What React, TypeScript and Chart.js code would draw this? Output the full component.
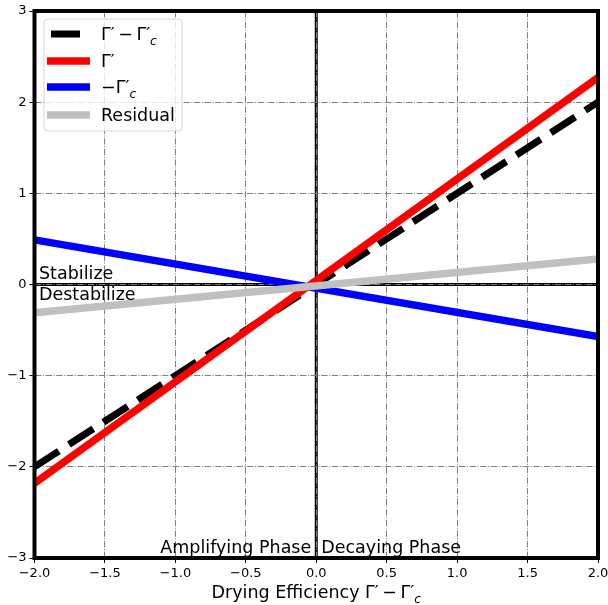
import React, { useEffect, useRef } from "react";
import { Chart, registerables } from "chart.js";

Chart.register(...registerables);

// Sample points along the drying-efficiency axis (Γ′ − Γ′c)
const xValues = [-2, 2];
// Series values at each sample point
const gammaDiff = [-2, 2];
const gammaPrime = [-2.18, 2.27];
const negGammaC = [0.49, -0.57];
const residual = [-0.31, 0.28];

const xTicks = [-2, -1.5, -1, -0.5, 0, 0.5, 1, 1.5, 2];
const yTicks = [-3, -2, -1, 0, 1, 2, 3];

const FONT = '"DejaVu Sans", "Noto Sans", sans-serif';

type Part = { t: string; sub?: boolean };

const legendLabels: Part[][] = [
  [{ t: "Γ′\u2009−\u2009Γ′" }, { t: "c", sub: true }],
  [{ t: "Γ′" }],
  [{ t: "−Γ′" }, { t: "c", sub: true }],
  [{ t: "Residual" }],
];
const axisTitle: Part[] = [
  { t: "Drying Efficiency Γ′\u2009−\u2009Γ′" },
  { t: "c", sub: true },
];

const fmtMinus = (s: string) => s.replace("-", "−");

function partFont(p: Part, size: number) {
  return p.sub ? `italic ${size * 0.7}px ${FONT}` : `${size}px ${FONT}`;
}

function drawRich(
  ctx: CanvasRenderingContext2D,
  parts: Part[],
  x: number,
  y: number,
  size: number,
  align: "left" | "center" | "right"
) {
  ctx.save();
  ctx.textAlign = "left";
  ctx.textBaseline = "alphabetic";
  let total = 0;
  const widths = parts.map((p) => {
    ctx.font = partFont(p, size);
    const w = ctx.measureText(p.t).width;
    total += w;
    return w;
  });
  let cx = align === "center" ? x - total / 2 : align === "right" ? x - total : x;
  parts.forEach((p, i) => {
    ctx.font = partFont(p, size);
    ctx.fillText(p.t, cx, y + (p.sub ? size * 0.28 : 0));
    cx += widths[i];
  });
  ctx.restore();
}

// Thick zero lines underneath the grid
const zeroLines = {
  id: "zeroLines",
  beforeDraw(chart: any) {
    const { ctx, chartArea, scales } = chart;
    const x0 = scales.x.getPixelForValue(0);
    const y0 = scales.y.getPixelForValue(0);
    ctx.save();
    ctx.strokeStyle = "#000";
    ctx.lineWidth = 3;
    ctx.beginPath();
    ctx.moveTo(x0, chartArea.top);
    ctx.lineTo(x0, chartArea.bottom);
    ctx.moveTo(chartArea.left, y0);
    ctx.lineTo(chartArea.right, y0);
    ctx.stroke();
    ctx.restore();
  },
};

// Frame, annotations, legend and axis title on top of the data
const overlay = {
  id: "overlay",
  afterDatasetsDraw(chart: any) {
    const { ctx, chartArea, scales } = chart;
    const xs = scales.x;
    const ys = scales.y;

    ctx.save();
    ctx.strokeStyle = "#000";
    ctx.lineWidth = 4;
    ctx.strokeRect(
      chartArea.left,
      chartArea.top,
      chartArea.right - chartArea.left,
      chartArea.bottom - chartArea.top
    );
    ctx.restore();

    const left = xs.getPixelForValue(-2);
    const x0 = xs.getPixelForValue(0);
    const y0 = ys.getPixelForValue(0);
    const yBottom = ys.getPixelForValue(-3);

    ctx.save();
    ctx.fillStyle = "#000";
    ctx.font = `17.5px ${FONT}`;
    ctx.textBaseline = "alphabetic";
    ctx.textAlign = "left";
    ctx.fillText("Stabilize", left + 4.5, y0 - 6);
    ctx.fillText("Destabilize", left + 4.5, y0 + 15);
    ctx.textAlign = "right";
    ctx.fillText("Amplifying Phase", x0 - 5, yBottom - 5);
    ctx.textAlign = "left";
    ctx.fillText("Decaying Phase", x0 + 5, yBottom - 5);
    ctx.restore();

    // Legend box
    const bx = 44, by = 19, bw = 138, bh = 112, r = 4;
    ctx.save();
    ctx.beginPath();
    ctx.moveTo(bx + r, by);
    ctx.arcTo(bx + bw, by, bx + bw, by + bh, r);
    ctx.arcTo(bx + bw, by + bh, bx, by + bh, r);
    ctx.arcTo(bx, by + bh, bx, by, r);
    ctx.arcTo(bx, by, bx + bw, by, r);
    ctx.closePath();
    ctx.fillStyle = "rgba(255,255,255,0.8)";
    ctx.fill();
    ctx.strokeStyle = "rgba(204,204,204,0.8)";
    ctx.lineWidth = 1;
    ctx.stroke();
    ctx.restore();

    const datasets = chart.data.datasets;
    const rows = [34, 61, 87, 115];
    datasets.forEach((ds: any, i: number) => {
      const cy = rows[i];
      ctx.save();
      ctx.strokeStyle = ds.borderColor;
      ctx.lineWidth = ds.borderWidth;
      ctx.lineCap = "butt";
      if (ds.borderDash && ds.borderDash.length) {
        ctx.setLineDash(ds.borderDash);
        ctx.lineDashOffset = ds.borderDash[0] + ds.borderDash[1] - 4;
      }
      ctx.beginPath();
      ctx.moveTo(47, cy);
      ctx.lineTo(90, cy);
      ctx.stroke();
      ctx.restore();
      ctx.fillStyle = "#000";
      drawRich(ctx, legendLabels[i], 101, cy + 6, 17.5, "left");
    });

    ctx.fillStyle = "#000";
    drawRich(ctx, axisTitle, x0, 598, 17.5, "center");
  },
};

const toPoints = (vals: number[]) => xValues.map((x, i) => ({ x, y: vals[i] }));

export default function App() {
  const canvasRef = useRef<HTMLCanvasElement | null>(null);

  useEffect(() => {
    document.body.style.margin = "0";
    const canvas = canvasRef.current;
    if (!canvas) return;

    const chart = new Chart(canvas, {
      type: "line",
      data: {
        datasets: [
          {
            label: "Γ′ − Γ′c",
            data: toPoints(gammaDiff),
            borderColor: "#000000",
            borderWidth: 7,
            borderDash: [29, 12],
            borderCapStyle: "butt",
            pointRadius: 0,
            clip: 0,
            order: 3,
          },
          {
            label: "Γ′",
            data: toPoints(gammaPrime),
            borderColor: "#ff0000",
            borderWidth: 7.5,
            pointRadius: 0,
            clip: 0,
            order: 2,
          },
          {
            label: "−Γ′c",
            data: toPoints(negGammaC),
            borderColor: "#0000ff",
            borderWidth: 7.5,
            pointRadius: 0,
            clip: 0,
            order: 1,
          },
          {
            label: "Residual",
            data: toPoints(residual),
            borderColor: "#c0c0c0",
            borderWidth: 7.5,
            pointRadius: 0,
            clip: 0,
            order: 0,
          },
        ],
      },
      options: {
        animation: false,
        responsive: false,
        maintainAspectRatio: false,
        parsing: false as any,
        layout: { padding: { top: 11, right: 10, left: 0, bottom: 0 } },
        plugins: { legend: { display: false }, tooltip: { enabled: false } },
        scales: {
          x: {
            type: "linear",
            min: -2,
            max: 2,
            afterBuildTicks: (s: any) => {
              s.ticks = xTicks.map((v) => ({ value: v }));
            },
            afterFit: (s: any) => {
              s.height = 47;
              s.paddingLeft = 0;
              s.paddingRight = 0;
            },
            ticks: {
              autoSkip: false,
              maxRotation: 0,
              padding: 3,
              color: "#000",
              font: { family: FONT, size: 13 },
              callback: (v: any) => fmtMinus(Number(v).toFixed(1)),
            },
            grid: {
              color: "#808080",
              lineWidth: 1,
              drawTicks: true,
              tickLength: 5,
              tickColor: "#000",
              tickWidth: 1,
            },
            border: { display: false, dash: [6.4, 1.6, 1, 1.6] },
          },
          y: {
            type: "linear",
            min: -3,
            max: 3,
            afterBuildTicks: (s: any) => {
              s.ticks = yTicks.map((v) => ({ value: v }));
            },
            afterFit: (s: any) => {
              s.width = 34.5;
              s.paddingTop = 0;
              s.paddingBottom = 0;
            },
            ticks: {
              autoSkip: false,
              padding: 3,
              color: "#000",
              font: { family: FONT, size: 13 },
              callback: (v: any) => fmtMinus(String(v)),
            },
            grid: {
              color: "#808080",
              lineWidth: 1,
              drawTicks: true,
              tickLength: 5,
              tickColor: "#000",
              tickWidth: 1,
            },
            border: { display: false, dash: [6.4, 1.6, 1, 1.6] },
          },
        },
      },
      plugins: [zeroLines, overlay],
    });

    return () => chart.destroy();
  }, []);

  return (
    <div style={{ width: 608, height: 605, position: "relative", background: "#fff" }}>
      <canvas ref={canvasRef} width={608} height={605} />
    </div>
  );
}
